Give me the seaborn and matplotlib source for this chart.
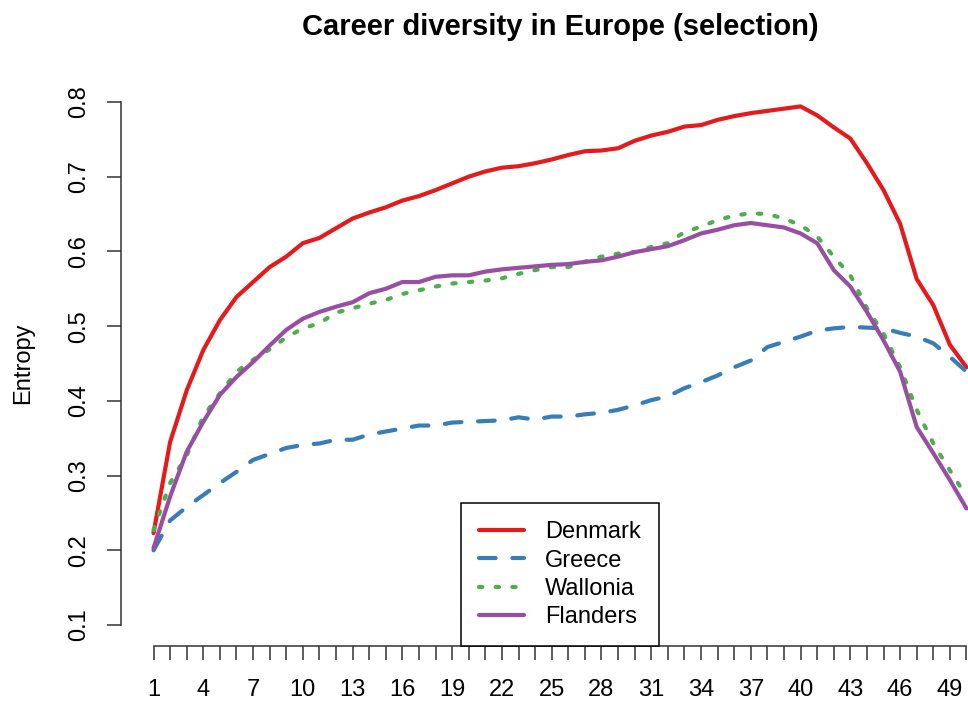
import matplotlib
matplotlib.use("Agg")
import matplotlib.pyplot as plt
import numpy as np
import pandas as pd
import seaborn as sns

# Data (entropy by position 1..50)
positions = list(range(1, 51))

denmark = [0.223, 0.345, 0.414, 0.468, 0.508, 0.539, 0.559, 0.579, 0.593, 0.611,
           0.618, 0.631, 0.644, 0.652, 0.659, 0.668, 0.674, 0.682, 0.691, 0.700,
           0.707, 0.712, 0.714, 0.718, 0.723, 0.729, 0.734, 0.735, 0.738, 0.748,
           0.755, 0.760, 0.767, 0.769, 0.776, 0.781, 0.785, 0.788, 0.791, 0.794,
           0.782, 0.766, 0.751, 0.718, 0.682, 0.637, 0.563, 0.528, 0.475, 0.445]

greece = [0.200, 0.240, 0.258, 0.274, 0.290, 0.305, 0.321, 0.329, 0.337, 0.341,
          0.343, 0.348, 0.348, 0.355, 0.359, 0.363, 0.367, 0.367, 0.371, 0.372,
          0.373, 0.374, 0.378, 0.375, 0.379, 0.379, 0.382, 0.384, 0.388, 0.394,
          0.401, 0.406, 0.417, 0.425, 0.434, 0.445, 0.454, 0.472, 0.479, 0.486,
          0.494, 0.497, 0.499, 0.498, 0.497, 0.491, 0.486, 0.477, 0.459, 0.439]

wallonia = [0.227, 0.290, 0.327, 0.379, 0.410, 0.439, 0.455, 0.469, 0.485, 0.497,
            0.504, 0.518, 0.524, 0.530, 0.535, 0.543, 0.548, 0.553, 0.557, 0.559,
            0.561, 0.564, 0.570, 0.575, 0.579, 0.579, 0.586, 0.593, 0.597, 0.599,
            0.606, 0.611, 0.626, 0.633, 0.642, 0.648, 0.651, 0.650, 0.644, 0.635,
            0.620, 0.593, 0.568, 0.524, 0.490, 0.445, 0.388, 0.343, 0.307, 0.272]

flanders = [0.203, 0.272, 0.332, 0.372, 0.408, 0.432, 0.452, 0.474, 0.495, 0.510,
            0.519, 0.526, 0.532, 0.544, 0.550, 0.559, 0.559, 0.566, 0.568, 0.568,
            0.573, 0.576, 0.578, 0.580, 0.582, 0.583, 0.586, 0.588, 0.593, 0.599,
            0.603, 0.607, 0.615, 0.624, 0.629, 0.635, 0.638, 0.635, 0.632, 0.624,
            0.611, 0.575, 0.553, 0.519, 0.481, 0.439, 0.365, 0.330, 0.294, 0.256]

series_names = ["Denmark", "Greece", "Wallonia", "Flanders"]
series_values = [denmark, greece, wallonia, flanders]
colors = ["#E41A1C", "#377EB8", "#4DAF4A", "#984EA3"]
line_styles = ["-", (0, (4, 4)), (0, (0.8, 3.2)), "-"]

y_ticks = [0.1, 0.2, 0.3, 0.4, 0.5, 0.6, 0.7, 0.8]
x_labels = list(range(1, 51, 3))

df = pd.DataFrame({"position": positions})
for name, vals in zip(series_names, series_values):
    df[name] = vals

sns.set_theme(style="white")
plt.rcParams["font.family"] = ["Liberation Sans", "DejaVu Sans"]
plt.rcParams["text.color"] = "black"
plt.rcParams["axes.labelcolor"] = "black"

fig = plt.figure(figsize=(9.68, 7.02), dpi=100)
# plot region in pixels: left 121, right 999 (past the cropped edge), top 81, bottom 646
ax = fig.add_axes([121 / 968, 56 / 702, 878 / 968, 565 / 702])

for name, color, ls in zip(series_names, colors, line_styles):
    sns.lineplot(data=df, x="position", y=name, color=color, linewidth=3,
                 linestyle=ls, dash_capstyle="round", solid_capstyle="round",
                 label=name, ax=ax)

ax.set_xlim(-0.96, 51.96)
ax.set_ylim(0.072, 0.828)

# R-style axes
for side in ["top", "right"]:
    ax.spines[side].set_visible(False)
ax.spines["left"].set_bounds(0.1, 0.8)
ax.spines["bottom"].set_bounds(1, 50)
for side in ["left", "bottom"]:
    ax.spines[side].set_color("#333333")
    ax.spines[side].set_linewidth(1.1)

ax.set_xticks(positions)
ax.set_xticklabels([str(p) if p in x_labels else "" for p in positions])
ax.set_yticks(y_ticks)
ax.set_yticklabels([f"{v:.1f}" for v in y_ticks], rotation=90, va="center")
ax.tick_params(axis="both", which="major", length=10, width=1.1, color="#333333",
               labelsize=17, labelcolor="black", direction="out",
               bottom=True, left=True)
ax.tick_params(axis="x", pad=14)
ax.tick_params(axis="y", pad=12)

ax.set_xlabel("")
ax.set_ylabel("Entropy", fontsize=17)
ax.yaxis.set_label_coords(-0.099, 0.5)
ax.set_title("Career diversity in Europe (selection)", fontsize=21,
             fontweight="bold", pad=33, color="black")

leg = ax.legend(loc="lower center", frameon=True, fancybox=False, fontsize=17,
                edgecolor="black", framealpha=1, borderaxespad=0,
                handlelength=1.9, handletextpad=0.9, labelspacing=0.27,
                borderpad=0.75)
leg.get_frame().set_linewidth(1.1)
for t in leg.get_texts():
    t.set_color("black")

fig.savefig("out.png", dpi=100)
